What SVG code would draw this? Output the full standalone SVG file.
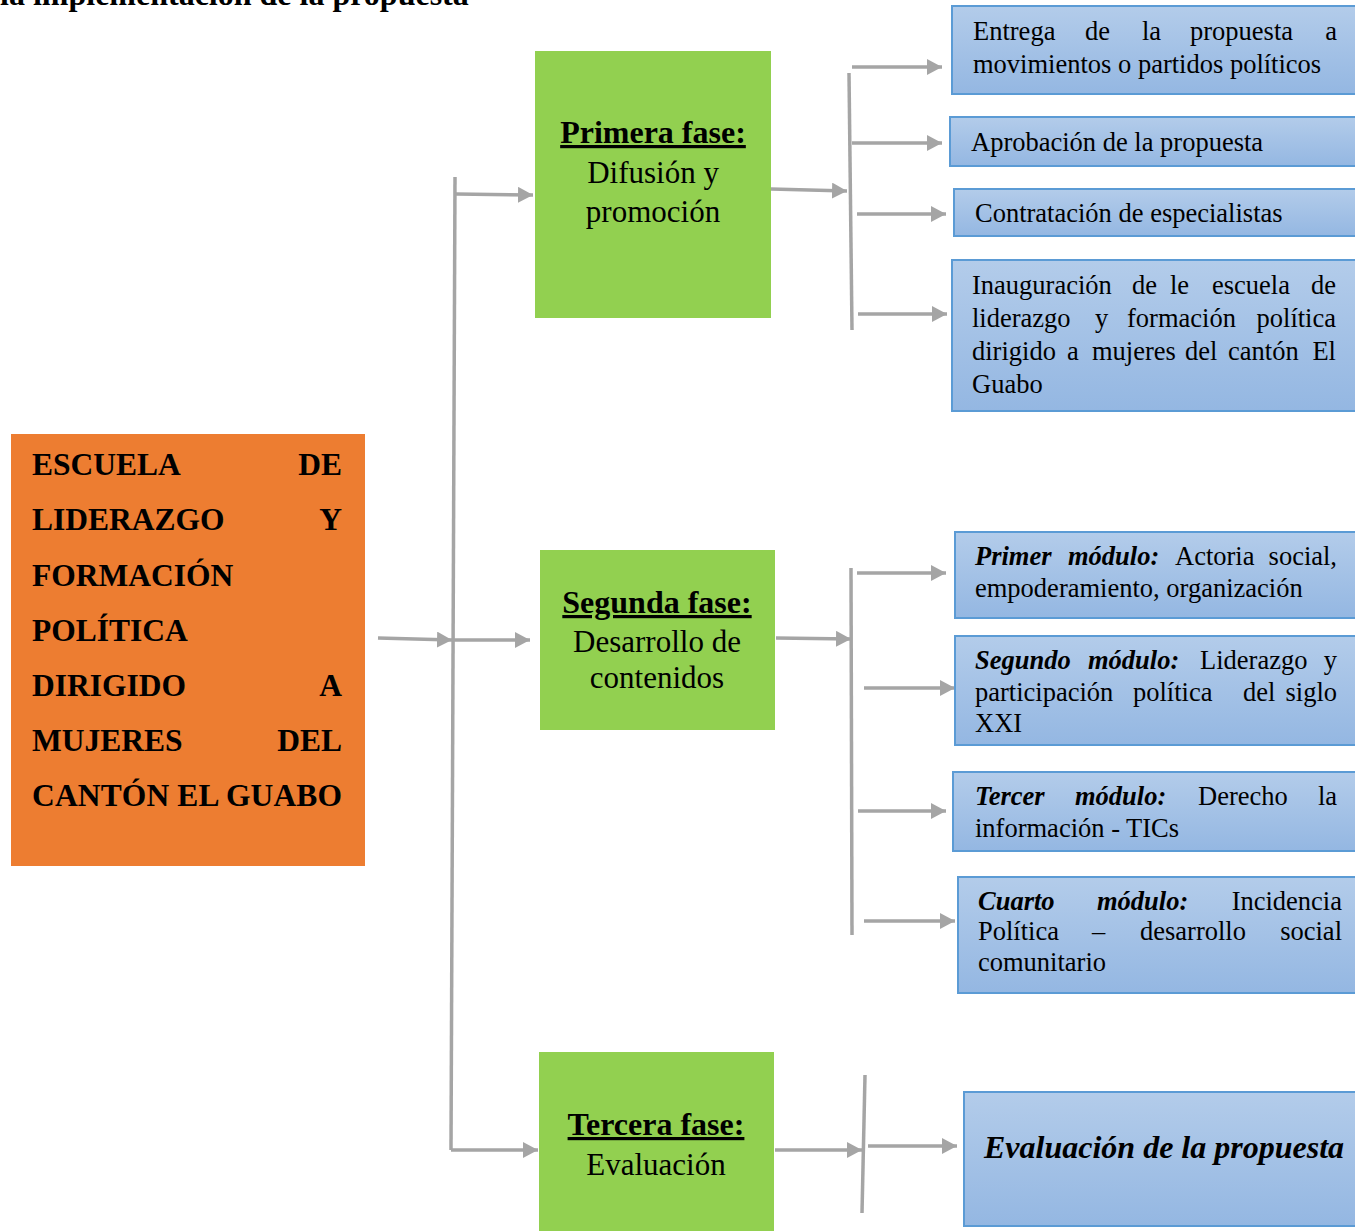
<svg xmlns="http://www.w3.org/2000/svg" width="1355" height="1231" viewBox="0 0 1355 1231">
<style>
.t{font-family:"Liberation Serif","Times New Roman",serif;fill:#000}
.title{font-size:32px;font-weight:bold}
.org{font-size:31.5px;font-weight:bold}
.ph{font-size:32px;font-weight:bold;text-decoration:underline;text-anchor:middle}
.phs{font-size:31px;text-anchor:middle}
.bl{font-size:26.5px}
.bi{font-weight:bold;font-style:italic}
.e{text-anchor:end}
.gr{fill:#92D050}
.bx{fill:url(#bg);stroke:#5B9BD5;stroke-width:2}
.c{stroke:#A5A5A5;stroke-width:3.5;fill:none}
.a{marker-end:url(#ah)}
</style>
<defs>
<linearGradient id="bg" x1="0" y1="0" x2="0" y2="1">
<stop offset="0" stop-color="#B3CCEA"/>
<stop offset="1" stop-color="#94B7E2"/>
</linearGradient>
<marker id="ah" markerUnits="userSpaceOnUse" markerWidth="16" markerHeight="16" refX="15" refY="8" orient="auto">
<path d="M0,0 L15,8 L0,16 z" fill="#A5A5A5"/>
</marker>
</defs>
<rect width="1355" height="1231" fill="#fff"/>
<text class="t title" x="0" y="5">la implementación de la propuesta</text>

<g id="connectors">
<path class="c" d="M455,177 L451,1150"/>
<path class="c a" d="M456,194 L533,195"/>
<path class="c a" d="M378,638 L452,640"/>
<path class="c a" d="M452,640 L530,640"/>
<path class="c a" d="M451,1150 L538,1150"/>
<path class="c a" d="M771,189 L847,191"/>
<path class="c" d="M849,73 L852,330"/>
<path class="c a" d="M852,67 L942,67"/>
<path class="c a" d="M852,143 L942,143"/>
<path class="c a" d="M857,214 L946,214"/>
<path class="c a" d="M858,314 L947,314"/>
<path class="c a" d="M776,638 L851,639"/>
<path class="c" d="M851,568 L852,935"/>
<path class="c a" d="M857,573 L946,573"/>
<path class="c a" d="M864,688 L955,688"/>
<path class="c a" d="M858,811 L946,811"/>
<path class="c a" d="M864,921 L955,921"/>
<path class="c a" d="M775,1150 L862,1150"/>
<path class="c" d="M865,1075 L862,1213"/>
<path class="c a" d="M868,1146 L957,1146"/>
</g>

<g id="main">
<rect x="11" y="434" width="354" height="432" fill="#ED7D31"/>
<text class="t org" x="32" y="475">ESCUELA</text><text class="t org e" x="342" y="475">DE</text>
<text class="t org" x="32" y="530">LIDERAZGO</text><text class="t org e" x="342" y="530">Y</text>
<text class="t org" x="32" y="586">FORMACIÓN</text>
<text class="t org" x="32" y="641">POLÍTICA</text>
<text class="t org" x="32" y="696">DIRIGIDO</text><text class="t org e" x="342" y="696">A</text>
<text class="t org" x="32" y="751">MUJERES</text><text class="t org e" x="342" y="751">DEL</text>
<text class="t org" x="32" y="806" textLength="310">CANTÓN EL GUABO</text>
</g>

<g id="fase1">
<rect class="gr" x="535" y="51" width="236" height="267"/>
<text class="t ph" x="653" y="143">Primera fase:</text>
<text class="t phs" x="653" y="183">Difusión y</text>
<text class="t phs" x="653" y="222">promoción</text>
</g>
<g id="fase2">
<rect class="gr" x="540" y="550" width="235" height="180"/>
<text class="t ph" x="657" y="613">Segunda fase:</text>
<text class="t phs" x="657" y="652">Desarrollo de</text>
<text class="t phs" x="657" y="688">contenidos</text>
</g>
<g id="fase3">
<rect class="gr" x="539" y="1052" width="235" height="185"/>
<text class="t ph" x="656" y="1135">Tercera fase:</text>
<text class="t phs" x="656" y="1175">Evaluación</text>
</g>

<g id="entrega">
<rect class="bx" x="952" y="6" width="410" height="88"/>
<text class="t bl" y="40"><tspan x="973">Entrega</tspan><tspan x="1085">de</tspan><tspan x="1142">la</tspan><tspan x="1190">propuesta</tspan></text>
<text class="t bl e" x="1337" y="40">a</text>
<text class="t bl" x="973" y="73">movimientos o partidos políticos</text>
</g>
<g id="aprobacion">
<rect class="bx" x="950" y="117" width="412" height="49"/>
<text class="t bl" x="971" y="151">Aprobación de la propuesta</text>
</g>
<g id="contratacion">
<rect class="bx" x="954" y="189" width="408" height="47"/>
<text class="t bl" x="975" y="222">Contratación de especialistas</text>
</g>
<g id="inauguracion">
<rect class="bx" x="952" y="260" width="410" height="151"/>
<text class="t bl" y="294"><tspan x="972">Inauguración</tspan><tspan x="1132">de</tspan><tspan x="1170">le</tspan><tspan x="1212">escuela</tspan></text>
<text class="t bl e" x="1336" y="294">de</text>
<text class="t bl" y="327"><tspan x="972">liderazgo</tspan><tspan x="1095">y</tspan><tspan x="1127">formación</tspan></text>
<text class="t bl e" x="1336" y="327">política</text>
<text class="t bl" y="360"><tspan x="972">dirigido</tspan><tspan x="1067">a</tspan><tspan x="1092">mujeres</tspan><tspan x="1185">del</tspan><tspan x="1228">cantón</tspan></text>
<text class="t bl e" x="1336" y="360">El</text>
<text class="t bl" x="972" y="393">Guabo</text>
</g>

<g id="modulo1">
<rect class="bx" x="955" y="532" width="407" height="86"/>
<text class="t bl" y="565"><tspan x="975" class="bi">Primer</tspan><tspan x="1068" class="bi">módulo:</tspan><tspan x="1175">Actoria</tspan></text>
<text class="t bl e" x="1337" y="565">social,</text>
<text class="t bl" x="975" y="597">empoderamiento, organización</text>
</g>
<g id="modulo2">
<rect class="bx" x="955" y="636" width="407" height="109"/>
<text class="t bl" y="669"><tspan x="975" class="bi">Segundo</tspan><tspan x="1088" class="bi">módulo:</tspan><tspan x="1200">Liderazgo</tspan></text>
<text class="t bl e" x="1337" y="669">y</text>
<text class="t bl" y="701"><tspan x="975">participación</tspan><tspan x="1133">política</tspan><tspan x="1243">del</tspan></text>
<text class="t bl e" x="1337" y="701">siglo</text>
<text class="t bl" x="975" y="732">XXI</text>
</g>
<g id="modulo3">
<rect class="bx" x="953" y="772" width="409" height="79"/>
<text class="t bl" y="805"><tspan x="975" class="bi">Tercer</tspan><tspan x="1075" class="bi">módulo:</tspan><tspan x="1198">Derecho</tspan></text>
<text class="t bl e" x="1337" y="805">la</text>
<text class="t bl" x="975" y="837">información - TICs</text>
</g>
<g id="modulo4">
<rect class="bx" x="958" y="877" width="404" height="116"/>
<text class="t bl" y="910"><tspan x="978" class="bi">Cuarto</tspan><tspan x="1097" class="bi">módulo:</tspan></text>
<text class="t bl e" x="1342" y="910">Incidencia</text>
<text class="t bl" y="940"><tspan x="978">Política</tspan><tspan x="1092">–</tspan><tspan x="1140">desarrollo</tspan></text>
<text class="t bl e" x="1342" y="940">social</text>
<text class="t bl" x="978" y="971">comunitario</text>
</g>
<g id="evaluacion">
<rect class="bx" x="964" y="1092" width="398" height="134"/>
<text class="t bi" style="font-size:32px" x="984" y="1158">Evaluación de la propuesta</text>
</g>
</svg>
